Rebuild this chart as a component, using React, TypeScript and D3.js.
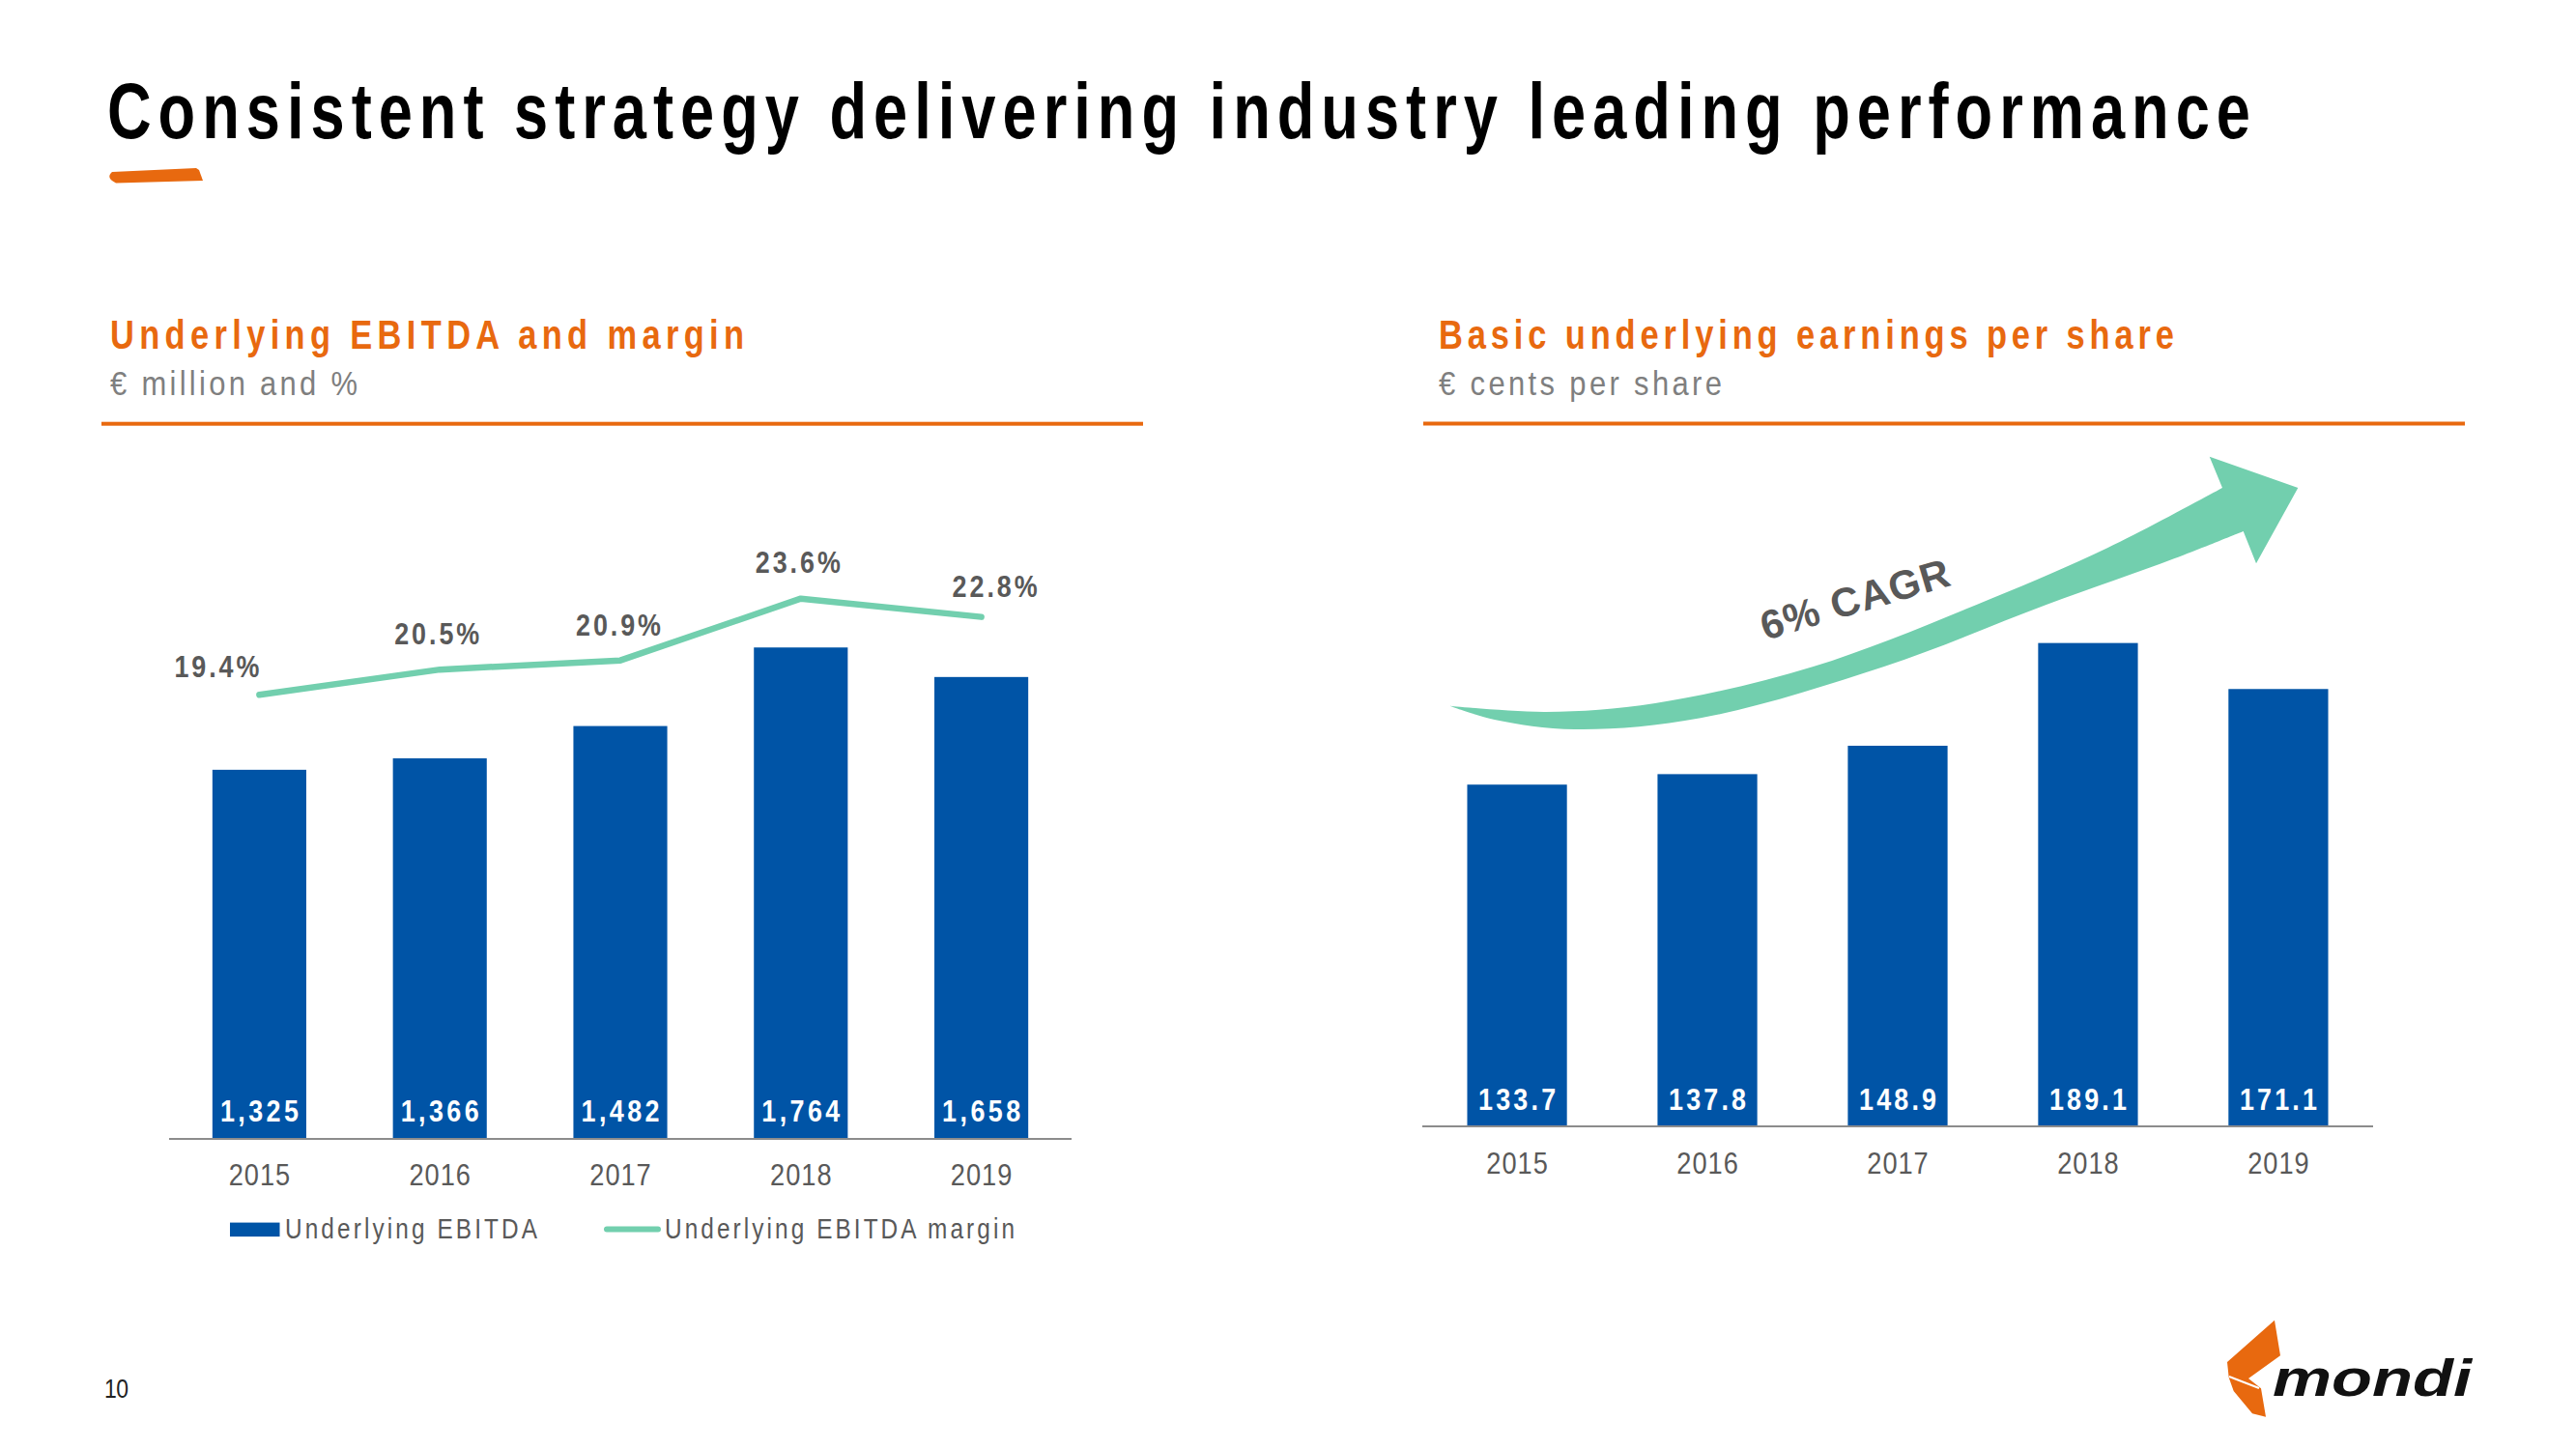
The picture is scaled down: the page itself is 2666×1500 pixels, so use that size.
import React from "react";
import * as d3 from "d3";

// ---------- data ----------
const years = ["2015", "2016", "2017", "2018", "2019"];
const ebitda = [1325, 1366, 1482, 1764, 1658];
const ebitdaMargin = [19.4, 20.5, 20.9, 23.6, 22.8];
const eps = [133.7, 137.8, 148.9, 189.1, 171.1];
const legendItems = ["Underlying EBITDA", "Underlying EBITDA margin"];

// ---------- style ----------
const BLUE = "#0054A6";
const TEAL = "#72CFAE";
const ORANGE = "#E8690F";
const DARK = "#595959";
const GREY = "#7F7F7F";
const AXIS = "#8C8C8C";
const FONT = "'Liberation Sans', Arial, Helvetica, sans-serif";

// label nudges (layout only)
const pctDx = [-44, -3, -2, -3, 14];
const pctDy = [-18, -26, -26, -27, -21];

type TProps = {
  x: number;
  y: number;
  size: number;
  weight?: number | string;
  fill?: string;
  anchor?: "start" | "middle" | "end";
  sx?: number;
  len?: number;
  italic?: boolean;
  adjust?: "spacing" | "spacingAndGlyphs";
  children: React.ReactNode;
};

function T({ x, y, size, weight = 400, fill = "#000", anchor = "start", sx = 1, len, italic, adjust = "spacing", children }: TProps) {
  return (
    <text
      transform={`translate(${x},${y}) scale(${sx},1)`}
      fontSize={size}
      fontWeight={weight}
      fontStyle={italic ? "italic" : "normal"}
      fill={fill}
      textAnchor={anchor}
      fontFamily={FONT}
      textLength={len ? len / sx : undefined}
      lengthAdjust={len ? adjust : undefined}
    >
      {children}
    </text>
  );
}

export default function App() {
  // ----- left chart scales -----
  const xL = d3.scaleBand<string>().domain(years).range([175, 1109]).paddingInner(0.48).paddingOuter(0.24);
  const yL = d3.scaleLinear().domain([0, 2500]).range([1179, 458]);
  const yM = d3.scaleLinear().domain([0, 30]).range([1179, 468]);
  const fmtInt = d3.format(",");
  const fmtPct = (v: number) => d3.format(".1f")(v) + "%";

  const marginLine = d3
    .line<number>()
    .x((_, i) => (xL(years[i]) as number) + xL.bandwidth() / 2)
    .y((d) => yM(d));

  // ----- right chart scales -----
  const xR = d3.scaleBand<string>().domain(years).range([1472, 2456]).paddingInner(0.476).paddingOuter(0.236);
  const yR = d3.scaleLinear().domain([0, 250]).range([1166, 504.5]);
  const fmtEps = d3.format(".1f");

  // ----- CAGR arrow annotation shape -----
  const upper: [number, number][] = [
    [1500.7, 730.7], [1600, 737], [1713, 728], [1876.7, 690], [2060, 620], [2181.5, 567], [2300, 505],
  ];
  const lower: [number, number][] = [
    [2321.7, 550], [2250, 578.3], [2117.8, 626], [1950, 690], [1760, 743.3], [1630, 755], [1546.7, 745], [1500.7, 730.7],
  ];
  const smooth = d3.line().curve(d3.curveCatmullRom.alpha(0.5));
  const upPath = smooth(upper) as string;
  const lowPath = (smooth(lower) as string).replace(/^M/, "L");
  const arrowPath =
    upPath +
    "L2286.7,472.7L2378.3,505L2335,583.3L2321.7,550" +
    lowPath +
    "Z";

  return (
    <svg
      width={2666}
      height={1500}
      viewBox="0 0 2666 1500"
      style={{ position: "absolute", left: 0, top: 0, display: "block", background: "#fff" }}
    >
      <rect x={0} y={0} width={2666} height={1500} fill="#fff" />

      {/* Title */}
      <T x={111} y={143} size={81} weight={700} sx={0.78} len={2218}>
        Consistent strategy delivering industry leading performance
      </T>
      <path d="M116,178 L203,174 L206,176 L210,187 L120,189.5 Q109,184 116,178 Z" fill={ORANGE} />

      {/* Left panel header */}
      <T x={114} y={361} size={42} weight={700} fill={ORANGE} sx={0.82} len={656}>
        Underlying EBITDA and margin
      </T>
      <T x={114} y={409} size={36} fill={GREY} sx={0.86} len={256}>
        € million and %
      </T>
      <rect x={105} y={436.7} width={1078} height={4} fill={ORANGE} />

      {/* Right panel header */}
      <T x={1489} y={361} size={42} weight={700} fill={ORANGE} sx={0.82} len={761}>
        Basic underlying earnings per share
      </T>
      <T x={1489} y={409} size={36} fill={GREY} sx={0.86} len={293}>
        € cents per share
      </T>
      <rect x={1473} y={436.5} width={1078} height={4} fill={ORANGE} />

      {/* ---------- Left chart ---------- */}
      <g>
        {ebitda.map((v, i) => (
          <rect
            key={"b" + i}
            x={xL(years[i])}
            y={yL(v)}
            width={xL.bandwidth()}
            height={yL(0) - yL(v)}
            fill={BLUE}
          />
        ))}
        <line x1={175} x2={1109} y1={yL(0)} y2={yL(0)} stroke={AXIS} strokeWidth={2} />
        <path d={marginLine(ebitdaMargin) as string} fill="none" stroke={TEAL} strokeWidth={6.5} strokeLinecap="round" strokeLinejoin="round" />
        {ebitda.map((v, i) => (
          <T key={"v" + i} x={(xL(years[i]) as number) + xL.bandwidth() / 2} y={yL(0) - 18.5} size={32} weight={700} fill="#fff" anchor="middle" sx={0.84} len={81}>
            {fmtInt(v)}
          </T>
        ))}
        {ebitdaMargin.map((v, i) => (
          <T key={"p" + i} x={(xL(years[i]) as number) + xL.bandwidth() / 2 + pctDx[i]} y={yM(v) + pctDy[i]} size={32} weight={700} fill={DARK} anchor="middle" sx={0.84} len={88}>
            {fmtPct(v)}
          </T>
        ))}
        {years.map((yr, i) => (
          <T key={"x" + i} x={(xL(yr) as number) + xL.bandwidth() / 2} y={yL(0) + 48} size={32} fill={DARK} anchor="middle" sx={0.85} len={63.5}>
            {yr}
          </T>
        ))}
        {/* legend */}
        <rect x={238} y={1265.6} width={51.5} height={14.5} fill={BLUE} />
        <T x={295} y={1281.5} size={29} fill={DARK} sx={0.84} len={261}>
          {legendItems[0]}
        </T>
        <line x1={628} x2={681} y1={1272.5} y2={1272.5} stroke={TEAL} strokeWidth={6} strokeLinecap="round" />
        <T x={688} y={1281.5} size={29} fill={DARK} sx={0.84} len={362}>
          {legendItems[1]}
        </T>
      </g>

      {/* ---------- Right chart ---------- */}
      <g>
        <path d={arrowPath} fill={TEAL} />
        <text
          transform="translate(1827,663) rotate(-16.5)"
          fontSize={42}
          fontWeight={700}
          fill={DARK}
          fontFamily={FONT}
          textLength={202}
          lengthAdjust="spacing"
        >
          6% CAGR
        </text>
        {eps.map((v, i) => (
          <rect
            key={"e" + i}
            x={xR(years[i])}
            y={yR(v)}
            width={xR.bandwidth()}
            height={yR(0) - yR(v)}
            fill={BLUE}
          />
        ))}
        <line x1={1472} x2={2456} y1={yR(0)} y2={yR(0)} stroke={AXIS} strokeWidth={2} />
        {eps.map((v, i) => (
          <T key={"ev" + i} x={(xR(years[i]) as number) + xR.bandwidth() / 2} y={yR(0) - 17} size={32} weight={700} fill="#fff" anchor="middle" sx={0.84} len={80}>
            {fmtEps(v)}
          </T>
        ))}
        {years.map((yr, i) => (
          <T key={"rx" + i} x={(xR(yr) as number) + xR.bandwidth() / 2} y={yR(0) + 49} size={32} fill={DARK} anchor="middle" sx={0.85} len={63.5}>
            {yr}
          </T>
        ))}
      </g>

      {/* Page number */}
      <T x={108} y={1447} size={27} fill="#222" sx={0.85} len={25}>
        10
      </T>

      {/* Logo */}
      <g>
        <path
          d="M2354,1366.7 L2360,1403.3 L2327,1427 L2340,1437.3 L2345,1466.7 L2331,1463.3 L2311.7,1440 L2306.7,1426 L2305,1410 Z"
          fill={ORANGE}
        />
        <line x1={2307} y1={1425} x2={2338} y2={1437} stroke="#fff" strokeWidth={2} />
        <T x={2352} y={1445} size={54} weight={900} italic fill="#111" len={206} adjust="spacingAndGlyphs">
          mondi
        </T>
      </g>
    </svg>
  );
}
